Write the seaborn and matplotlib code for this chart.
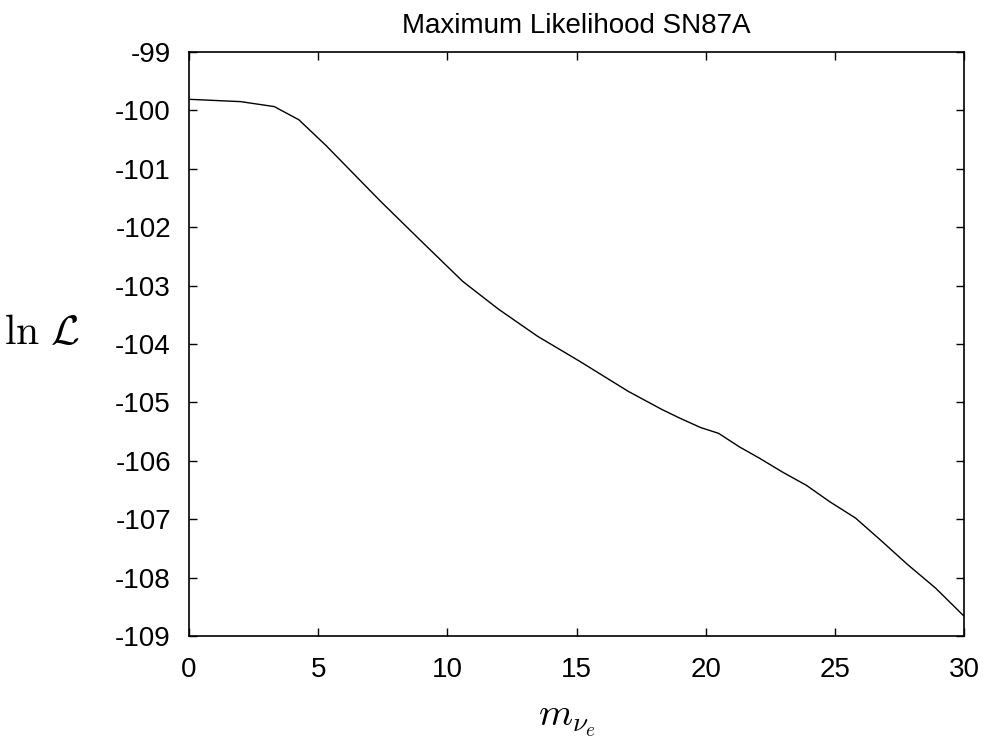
import matplotlib
matplotlib.use("Agg")
import matplotlib.pyplot as plt
import seaborn as sns
import pandas as pd

# Log-likelihood of the electron-neutrino mass from the SN1987A events
mass = [0.0, 2.0, 3.3, 4.25, 5.3, 7.4, 8.9, 10.6, 12.0, 13.5, 15.1, 17.0, 18.3,
        19.0, 19.8, 20.5, 21.3, 22.1, 23.0, 23.9, 24.8, 25.8, 26.8, 27.8, 28.9, 30.0]
log_like = [-99.81, -99.85, -99.935, -100.16, -100.6, -101.55, -102.2, -102.93,
            -103.41, -103.87, -104.29, -104.81, -105.12, -105.27, -105.43, -105.53,
            -105.76, -105.96, -106.2, -106.42, -106.7, -106.98, -107.37, -107.77,
            -108.18, -108.66]
x_ticks = [0, 5, 10, 15, 20, 25, 30]
y_ticks = [-99, -100, -101, -102, -103, -104, -105, -106, -107, -108, -109]

sns.set_style("ticks")
plt.rcParams["font.family"] = ["Liberation Sans", "DejaVu Sans"]
plt.rcParams["mathtext.fontset"] = "cm"
plt.rcParams["text.color"] = "black"
plt.rcParams["axes.labelcolor"] = "black"

df = pd.DataFrame({"m": mass, "lnL": log_like})

fig = plt.figure(figsize=(9.87, 7.47), dpi=100)
ax = fig.add_axes([0.1915, 0.1486, 0.7852, 0.7818])
sns.lineplot(data=df, x="m", y="lnL", ax=ax, color="black", linewidth=1.0)

ax.set_xlim(0, 30)
ax.set_ylim(-109, -99)
ax.set_xticks(x_ticks)
ax.set_yticks(y_ticks)
ax.set_xticklabels([str(t) for t in x_ticks])
ax.set_yticklabels([str(t) for t in y_ticks])
ax.tick_params(direction="in", length=6, width=1.0, top=True, right=True,
               labelsize=20, colors="black")
ax.tick_params(axis="x", pad=15)
ax.tick_params(axis="y", pad=13)
for s in ax.spines.values():
    s.set_visible(True)
    s.set_linewidth(1.2)
    s.set_color("black")

ax.set_title("Maximum Likelihood SN87A", fontsize=20, pad=14, color="black")
ax.set_xlabel(r"$m_{\nu_e}$", fontsize=28)
ax.xaxis.set_label_coords(0.487, -0.115)
ax.set_ylabel(r"$\ln\,\mathcal{L}$", fontsize=30, rotation=0)
ax.yaxis.set_label_coords(-0.19, 0.485)

fig.savefig("out.png", dpi=100)
